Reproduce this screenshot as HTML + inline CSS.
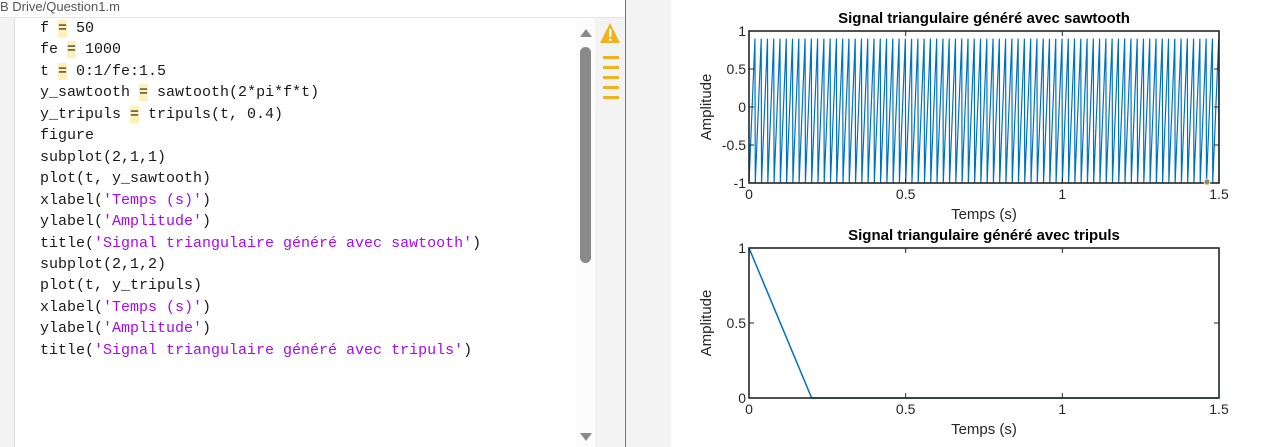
<!DOCTYPE html>
<html><head><meta charset="utf-8">
<style>
body{margin:0;width:1262px;height:447px;overflow:hidden;background:#fff;position:relative;font-family:"Liberation Sans",sans-serif}
.abs{position:absolute}
#code{position:absolute;left:40px;top:18px;font-family:"Liberation Mono","DejaVu Sans Mono",monospace;font-size:15px;line-height:21.45px;color:#1a1a1a;white-space:pre}
.s{color:#a709f5}
.eq{background:#fdf0b8}
</style></head><body>
<div class="abs" style="left:0;top:0;width:625px;height:17px;border-bottom:1px solid #e6e6e6;color:#555;font-size:13px;line-height:14px">B Drive/Question1.m</div>
<div class="abs" style="left:0;top:18px;width:14px;height:429px;background:#f3f3f3;border-right:1px solid #ddd"></div>
<div id="code">f <span class="eq">=</span> 50
fe <span class="eq">=</span> 1000
t <span class="eq">=</span> 0:1/fe:1.5
y_sawtooth <span class="eq">=</span> sawtooth(2*pi*f*t)
y_tripuls <span class="eq">=</span> tripuls(t, 0.4)
figure
subplot(2,1,1)
plot(t, y_sawtooth)
xlabel(<span class="s">'Temps (s)'</span>)
ylabel(<span class="s">'Amplitude'</span>)
title(<span class="s">'Signal triangulaire généré avec sawtooth'</span>)
subplot(2,1,2)
plot(t, y_tripuls)
xlabel(<span class="s">'Temps (s)'</span>)
ylabel(<span class="s">'Amplitude'</span>)
title(<span class="s">'Signal triangulaire généré avec tripuls'</span>)</div>
<div class="abs" style="left:576px;top:18px;width:19px;height:429px;background:#fcfcfc"></div>
<div class="abs" style="left:580px;top:29px;width:0;height:0;border-left:6px solid transparent;border-right:6px solid transparent;border-bottom:8px solid #8a8a8a"></div>
<div class="abs" style="left:580px;top:47px;width:11px;height:216px;background:#8a8a8a;border-radius:6px"></div>
<div class="abs" style="left:580px;top:433px;width:0;height:0;border-left:6px solid transparent;border-right:6px solid transparent;border-top:8px solid #8a8a8a"></div>
<div class="abs" style="left:595px;top:18px;width:30px;height:429px;background:#f3f3f3"></div>
<svg class="abs" style="left:598px;top:20px" width="26" height="80">
<path d="M12 3 L22 23 L2 23 Z" fill="#f0b21e"/><rect x="11" y="9" width="2.4" height="8" fill="#fff"/><rect x="11" y="18.5" width="2.4" height="2.4" fill="#fff"/>
<g fill="#f0b21e"><rect x="5" y="36" width="16" height="3"/><rect x="5" y="46" width="16" height="3"/><rect x="5" y="56" width="16" height="3"/><rect x="5" y="66" width="16" height="3"/><rect x="5" y="76" width="16" height="3"/></g>
</svg>
<div class="abs" style="left:625px;top:0;width:1px;height:447px;background:#777"></div>
<div class="abs" style="left:626px;top:209px;width:2px;height:2px;background:#222"></div>
<div class="abs" style="left:626px;top:0;width:45px;height:447px;background:#f4f4f4"></div>
<svg id="fig" class="abs" style="left:0;top:0" width="1262" height="447"></svg>
<script>
const sawPeriod=[-1,-0.9,-0.8,-0.7,-0.6,-0.5,-0.4,-0.3,-0.2,-0.1,0,0.1,0.2,0.3,0.4,0.5,0.6,0.7,0.8,0.9];
const sawPeriods=75;
const sampleStep=0.001;
const triT=[0,0.2,1.5];
const triY=[1,0,0];
const xTicks=[0,0.5,1,1.5];
const xTickLabels=['0','0.5','1','1.5'];
const yTicks1=[-1,-0.5,0,0.5,1];
const yTickLabels1=['-1','-0.5','0','0.5','1'];
const yTicks2=[0,0.5,1];
const yTickLabels2=['0','0.5','1'];

const svg=document.getElementById('fig');
const NS='http://www.w3.org/2000/svg';
function mk(tag,attrs,parent){const e=document.createElementNS(NS,tag);for(const k in attrs)e.setAttribute(k,attrs[k]);(parent||svg).appendChild(e);return e;}
function axes(box,ymin,ymax,yt,ytl,title,name){
  const X=v=>box.l+(v-0)/(1.5-0)*(box.r-box.l);
  const Y=v=>box.b-(v-ymin)/(ymax-ymin)*(box.b-box.t);
  const g=mk('g',{});
  
  
  return {X,Y,g,box,finish(){
    mk('rect',{x:box.l,y:box.t,width:box.r-box.l,height:box.b-box.t,fill:'none',stroke:'#262626','stroke-width':1.6},g);
    xTicks.forEach((v,i)=>{const x=X(v);
      mk('line',{x1:x,x2:x,y1:box.b,y2:box.b-5,stroke:'#262626'},g);
      mk('line',{x1:x,x2:x,y1:box.t,y2:box.t+5,stroke:'#262626'},g);
      const t=mk('text',{x:x,y:box.b+16,'text-anchor':'middle','font-size':14,fill:'#262626'},g);t.textContent=xTickLabels[i];
      
      });
    yt.forEach((v,i)=>{const y=Y(v);
      mk('line',{x1:box.l,x2:box.l+5,y1:y,y2:y,stroke:'#262626'},g);
      mk('line',{x1:box.r,x2:box.r-5,y1:y,y2:y,stroke:'#262626'},g);
      const t=mk('text',{x:box.l-3,y:y+5,'text-anchor':'end','font-size':14,fill:'#262626'},g);t.textContent=ytl[i];
      
      });
    const tt=mk('text',{x:(box.l+box.r)/2,y:box.t-8,'text-anchor':'middle','font-size':15,'font-weight':'bold',fill:'#000'},g);tt.textContent=title;
    
    
    const xl=mk('text',{x:(box.l+box.r)/2,y:box.b+36,'text-anchor':'middle','font-size':15,fill:'#262626'},g);xl.textContent='Temps (s)';
    
    
    const cy=(box.t+box.b)/2;
    const yl=mk('text',{x:711,y:cy,'text-anchor':'middle','font-size':15,fill:'#262626',transform:`rotate(-90 711 ${cy})`},g);yl.textContent='Amplitude';
    
    
  }};
}
const a1=axes({l:749,r:1219,t:31,b:183},-1,1,yTicks1,yTickLabels1,'Signal triangulaire généré avec sawtooth','sawtooth-axes');
let pts=[];let n=0;
for(let p=0;p<sawPeriods;p++){for(let k=0;k<sawPeriod.length;k++){pts.push(a1.X(n*sampleStep).toFixed(2)+','+a1.Y(sawPeriod[k]).toFixed(2));n++;}}
pts.push(a1.X(n*sampleStep).toFixed(2)+','+a1.Y(sawPeriod[0]).toFixed(2));
const l1=mk('polyline',{points:pts.join(' '),fill:'none',stroke:'#0072BD','stroke-width':1.2},a1.g);


a1.finish();
mk('circle',{cx:1207,cy:182,r:3,fill:'#888',stroke:'#f5e9a0'},a1.g);
const a2=axes({l:749,r:1219,t:248,b:398},0,1,yTicks2,yTickLabels2,'Signal triangulaire généré avec tripuls','tripuls-axes');
const l2=mk('polyline',{points:triT.map((t,i)=>a2.X(t)+','+a2.Y(triY[i])).join(' '),fill:'none',stroke:'#0072BD','stroke-width':1.5},a2.g);


a2.finish();
</script>
</body></html>
